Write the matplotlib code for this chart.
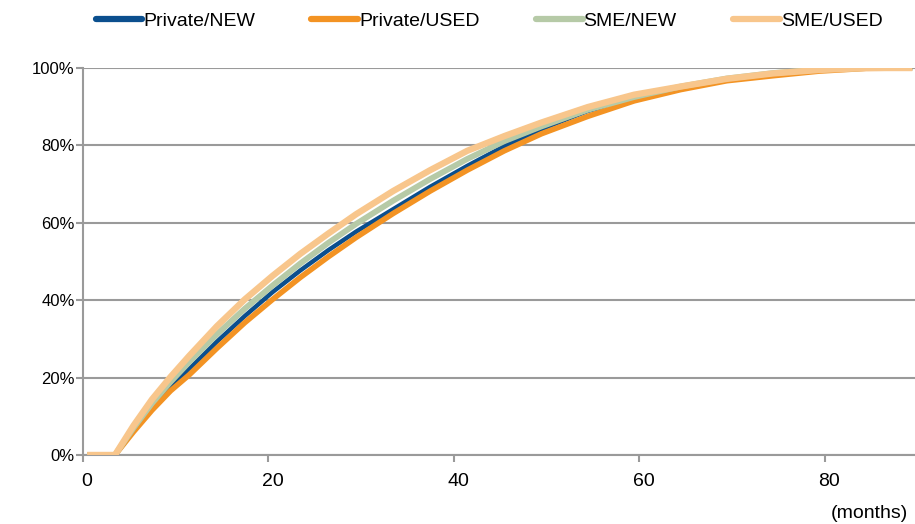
import matplotlib
matplotlib.use("Agg")
import matplotlib.pyplot as plt
from matplotlib.ticker import FuncFormatter, FixedLocator

# Cumulative share over loan age (months), by customer segment and vehicle type
months = [0, 3, 5, 7, 9, 11, 14, 17, 20, 23, 26, 29, 33, 37, 41, 45, 49, 54, 59, 64, 69, 74, 79, 84, 89]

private_new = [0, 0, 6.6, 12.6, 17.3, 22.2, 29.3, 35.9, 42.1, 47.7, 52.9, 57.7, 63.5, 69.3, 74.7, 79.8,
               84.2, 88.9, 92.1, 94.9, 97.0, 98.5, 99.5, 100, 100]
private_used = [0, 0, 6.0, 11.6, 16.6, 20.7, 27.6, 34.2, 40.2, 45.9, 51.2, 56.2, 62.4, 68.2, 73.6, 78.6,
                83.0, 87.5, 91.5, 94.4, 96.7, 98.0, 99.2, 99.9, 100]
sme_new = [0, 0, 7.0, 13.4, 18.9, 24.0, 31.2, 37.8, 43.8, 49.5, 54.8, 59.7, 65.7, 71.3, 76.5, 81.1,
           84.9, 89.2, 92.5, 95.2, 97.3, 98.7, 99.6, 100, 100]
sme_used = [0, 0, 7.6, 14.4, 20.2, 25.6, 33.3, 40.2, 46.3, 52.0, 57.2, 62.2, 68.2, 73.6, 78.6, 82.4,
            85.9, 89.9, 93.1, 95.2, 97.2, 98.6, 99.5, 100, 100]

series_names = ["Private/NEW", "Private/USED", "SME/NEW", "SME/USED"]
x_labels = [0, 20, 40, 60, 80]
y_ticks = [0, 20, 40, 60, 80, 100]

plt.rcParams["font.family"] = ["Liberation Sans", "DejaVu Sans"]

fig = plt.figure(figsize=(9.15, 5.24), dpi=100)
ax = fig.add_axes([83 / 915, 1 - 455 / 524, 1 - 83 / 915, (455 - 68) / 524])

styles = [
    ("#0B4F8E", 3.2),
    ("#F39323", 4.0),
    ("#B6CAA7", 4.2),
    ("#F8C68C", 4.6),
]
for values, name, (color, lw) in zip([private_new, private_used, sme_new, sme_used], series_names, styles):
    ax.plot(months, values, color=color, lw=lw, label=name, solid_joinstyle="round",
            solid_capstyle="butt", zorder=3)

# category-style axis: tick marks sit half a month before each labelled month
ax.set_xlim(-0.45, 89.3)
ax.set_ylim(0, 100)
ax.set_xticks(x_labels)
ax.xaxis.set_minor_locator(FixedLocator([v - 0.45 for v in x_labels]))
ax.set_yticks(y_ticks)
ax.yaxis.set_major_formatter(FuncFormatter(lambda v, _: f"{v:.0f}%"))

grid_color = "#9A9A9A"
ax.grid(axis="y", color=grid_color, lw=1.5, zorder=1)
ax.set_axisbelow(True)
for side in ["top", "right"]:
    ax.spines[side].set_visible(False)
for side in ["left", "bottom"]:
    ax.spines[side].set_color(grid_color)
    ax.spines[side].set_linewidth(1.5)
ax.tick_params(axis="y", color=grid_color, width=1.5, length=5, pad=1, labelsize=12)
ax.tick_params(axis="x", which="major", length=0, pad=13, labelsize=14)
ax.tick_params(axis="x", which="minor", color=grid_color, width=1.5, length=5)

fig.text(908 / 915, 1 - 513 / 524, "(months)", ha="right", va="center", fontsize=14)

leg = fig.legend(loc="center", bbox_to_anchor=(489 / 915, 1 - 21 / 524), ncol=4, frameon=False,
                 handlelength=2.4, handletextpad=0.05, columnspacing=2.9, fontsize=14)
for line in leg.get_lines():
    line.set_linewidth(4.5)
    line.set_solid_capstyle("round")

fig.savefig("out.png", dpi=100)
